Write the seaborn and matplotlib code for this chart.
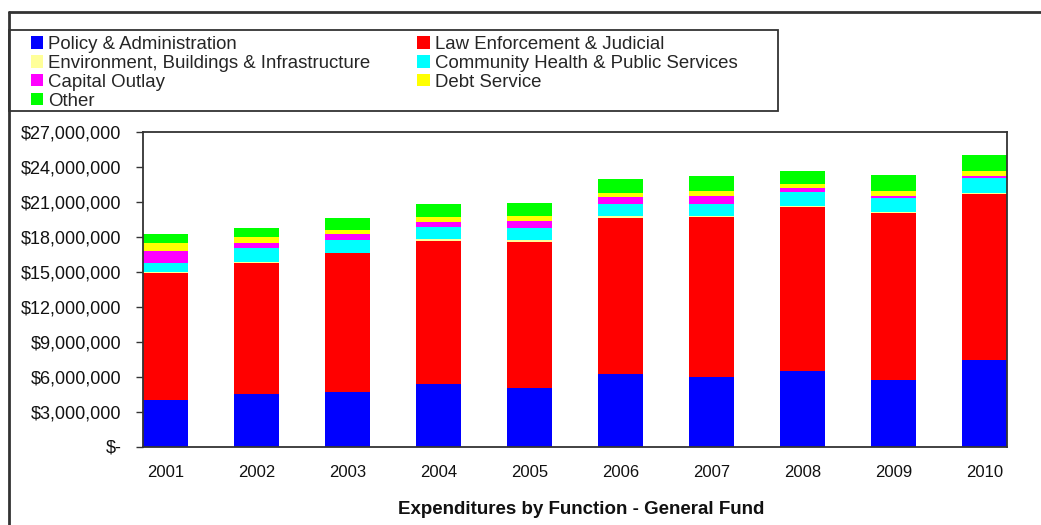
import numpy as np
import matplotlib
matplotlib.use("Agg")
import matplotlib.pyplot as plt
import seaborn as sns
from matplotlib.patches import Patch, Rectangle
from matplotlib.lines import Line2D
from matplotlib.ticker import FuncFormatter, MultipleLocator, FixedLocator

# data (dollars)
years = ["2001", "2002", "2003", "2004", "2005", "2006", "2007", "2008", "2009", "2010"]
policy = [3990000, 4530000, 4670000, 5370000, 5010000, 6210000, 5960000, 6470000, 5700000, 7410000]
law = [10910000, 11280000, 11920000, 12330000, 12600000, 13460000, 13800000, 14140000, 14340000, 14320000]
environment = [80000, 80000, 60000, 90000, 100000, 100000, 30000, 90000, 90000, 30000]
community = [830000, 1210000, 1060000, 1110000, 1100000, 1100000, 1080000, 1200000, 1260000, 1350000]
capital = [1030000, 430000, 510000, 430000, 600000, 600000, 690000, 340000, 170000, 170000]
debt = [690000, 430000, 350000, 430000, 430000, 340000, 420000, 340000, 420000, 430000]
other = [770000, 850000, 1030000, 1110000, 1120000, 1200000, 1290000, 1120000, 1380000, 1370000]

names = ["Policy & Administration", "Law Enforcement & Judicial",
         "Environment, Buildings & Infrastructure", "Community Health & Public Services",
         "Capital Outlay", "Debt Service", "Other"]
series = [policy, law, environment, community, capital, debt, other]
colors = ["#0000FF", "#FF0000", "#FFFF99", "#00FFFF", "#FF00FF", "#FFFF00", "#00FF00"]

sns.set_style("white")
plt.rcParams['font.family'] = ['Liberation Sans', 'DejaVu Sans']

W, H = 1041, 525
fig = plt.figure(figsize=(W / 100, H / 100), dpi=100)
ax = fig.add_axes([143 / W, 1 - 446.5 / H, (1007 - 143) / W, (446.5 - 132.3) / H])

# stacked bars, bottom to top
bottom = np.zeros(len(years))
for name, vals, col in zip(names, series, colors):
    vals = np.array(vals, dtype=float)
    sns.barplot(x=years, y=vals, bottom=bottom.copy(), color=col, saturation=1,
                width=0.5, errorbar=None, linewidth=0, ax=ax)
    bottom += vals

ax.set_xlim(-0.25, 9.25)
ax.set_ylim(0, 27000000)
ax.set_xlabel("")
ax.set_ylabel("")
ax.yaxis.set_major_locator(MultipleLocator(3000000))
ax.yaxis.set_major_formatter(FuncFormatter(lambda v, p: "$-" if v == 0 else f"${v:,.0f}"))

edges = [i - 0.25 for i in range(len(years))] + [i + 0.25 for i in range(len(years))]
ax.xaxis.set_minor_locator(FixedLocator(sorted(edges)))
ax.tick_params(axis='x', which='major', length=0, pad=13.5, labelsize=12, colors='#111111')
ax.tick_params(axis='x', which='minor', length=4, width=1, direction='out', color='#333333')
ax.tick_params(axis='y', which='major', length=5, width=1, direction='out', color='#333333',
               pad=10.5, labelsize=13, labelcolor='#111111')
ax.tick_params(left=True, bottom=True)
for s in ax.spines.values():
    s.set_visible(True)
    s.set_color('#333333')
    s.set_linewidth(1.3)

# title under the chart
fig.text(581 / W, 1 - 510 / H, "Expenditures by Function - General Fund",
         ha='center', va='center', fontsize=13.5, fontweight='bold', color='#111111')

# outer chart frame (top & left visible) and legend box
fig.add_artist(Line2D([9 / W, 1], [1 - 11.5 / H] * 2, transform=fig.transFigure, color='#333333', lw=2))
fig.add_artist(Line2D([9 / W] * 2, [0, 1 - 11.5 / H], transform=fig.transFigure, color='#333333', lw=2))
fig.add_artist(Rectangle((9 / W, 1 - 111 / H), 769 / W, 81 / H, transform=fig.transFigure,
                         fill=False, ec='#333333', lw=1.3))

# legend laid out row-wise in two columns
order = [0, 2, 4, 6, 1, 3, 5]
handles = [Patch(facecolor=colors[i], edgecolor='none') for i in order]
labels = [names[i] for i in order]
fig.legend(handles, labels, loc='upper left', bbox_to_anchor=(31 / W, 1 - 36 / H), ncol=2,
           frameon=False, fontsize=13.4, handlelength=0.66, handleheight=0.66,
           handletextpad=0.28, labelspacing=0.1, columnspacing=2.5,
           borderpad=0, borderaxespad=0)

fig.savefig("out.png", dpi=100)
